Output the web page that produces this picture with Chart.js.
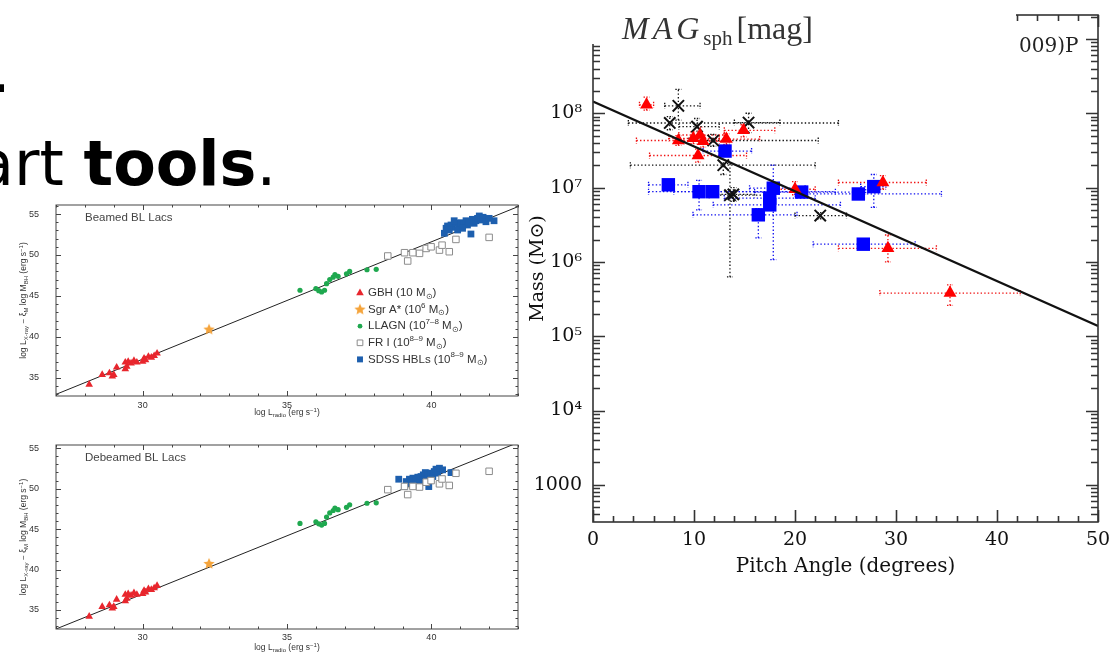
<!DOCTYPE html>
<html>
<head>
<meta charset="utf-8">
<script src="https://cdn.jsdelivr.net/npm/chart.js@4.4.0/dist/chart.umd.min.js"></script>
<style>
  html, body { margin: 0; padding: 0; background: #fff; }
  body { position: relative; width: 1118px; height: 652px; overflow: hidden; }
  canvas { position: absolute; }
  .slide { position: absolute; font-family: "DejaVu Sans"; font-size: 62px; line-height: 62px; color: #000; white-space: nowrap; }
  #magCover { position: absolute; left: 560px; top: 0; width: 456px; height: 44px; background: #fff; }
  #magLabel { position: absolute; left: 622px; top: 12px; font-family: "Liberation Serif"; font-size: 32px; line-height: 32px; color: #333; white-space: nowrap; }
  #magLabel i { letter-spacing: 4px; }
  #magLabel sub { font-size: 21px; vertical-align: -6px; margin-right: 4px; }
  #cornerText { position: absolute; left: 1019px; top: 35px; font-family: "DejaVu Serif"; font-size: 20px; line-height: 20px; color: #222; }
</style>
</head>
<body>
<div class="slide" style="left:-9px;top:40px">.</div>
<div class="slide" style="left:-24px;top:133px">art <b>tools</b>.</div>

<canvas id="beamed" width="530" height="225" style="left:0;top:195px"></canvas>
<canvas id="debeamed" width="530" height="222" style="left:0;top:430px"></canvas>
<canvas id="pitch" width="618" height="585" style="left:500px;top:0"></canvas>

<div id="magCover"></div>
<div id="magLabel"><i>MAG</i><sub>sph</sub>[mag]</div>
<div id="cornerText">009)P</div>

<script>
// ---------- fundamental plane panels ----------
const radioTicks = [30, 35, 40];
const planeTicks = [35, 40, 45, 50, 55];

// stellar-mass black holes
const gbhRadio = [28.15, 28.6, 28.85, 28.95, 29.0, 29.1, 29.4, 29.4, 29.45, 29.5, 29.6, 29.7, 29.8, 30.0, 30.05, 30.1, 30.2, 30.3, 30.4, 30.5];
const gbhPlane = [34.2, 35.4, 35.6, 35.2, 35.4, 36.3, 36.1, 36.9, 36.4, 37.0, 36.8, 37.1, 36.9, 37.0, 37.4, 37.2, 37.6, 37.5, 37.7, 38.0];

// Sgr A*
const sgrRadio = [32.3];
const sgrPlaneBeamed = [40.9];
const sgrPlaneDebeamed = [40.7];

// LLAGN
const llagnRadio = [35.45, 36.0, 36.1, 36.2, 36.3, 36.37, 36.48, 36.6, 36.66, 36.77, 37.06, 37.17, 37.77, 38.09];
const llagnPlane = [45.7, 45.9, 45.65, 45.5, 45.7, 46.5, 47.0, 47.3, 47.6, 47.4, 47.7, 48.0, 48.2, 48.25];

// FR I radio galaxies
const fr1Radio = [38.49, 39.18, 39.07, 39.36, 39.59, 39.82, 39.99, 40.28, 40.37, 40.62, 40.85, 42.0];
const fr1Plane = [49.88, 49.27, 50.28, 50.28, 50.2, 50.8, 51.0, 50.6, 51.2, 50.4, 51.9, 52.15];

// SDSS HBLs, before and after the beaming correction
const hblRadioBeamed = [40.45, 40.51, 40.56, 40.68, 40.73, 40.85, 40.97, 41.02, 41.14, 41.2, 41.25, 41.31, 41.37, 41.42, 41.48, 41.54, 41.6, 41.66, 41.71, 41.79, 41.89, 42.0, 42.17, 40.62, 40.91, 41.08, 40.79];
const hblPlaneBeamed = [52.65, 53.26, 53.54, 53.66, 53.38, 53.87, 53.54, 53.94, 53.78, 54.18, 53.66, 54.06, 52.56, 54.35, 53.87, 54.18, 54.47, 54.76, 54.27, 54.6, 54.06, 54.47, 54.18, 53.05, 53.05, 53.26, 54.18];
const hblRadioDebeamed = [38.87, 39.07, 39.13, 39.24, 39.3, 39.36, 39.47, 39.53, 39.59, 39.64, 39.72, 39.79, 39.82, 39.87, 39.91, 39.99, 40.05, 40.1, 40.16, 40.22, 40.28, 40.39, 40.68, 39.41, 39.7];
const hblPlaneDebeamed = [51.17, 50.26, 50.88, 51.17, 50.68, 51.3, 51.09, 51.42, 50.88, 51.5, 51.71, 51.99, 51.17, 51.71, 50.26, 51.92, 51.5, 52.12, 52.41, 51.92, 52.53, 52.33, 51.99, 50.47, 51.09];

// best-fit plane
const fitRadio = [27, 43];
const fitPlaneBeamed = [33.0, 55.9];
const fitPlaneDebeamed = [32.65, 55.7];

const legendLabels = [
  [['GBH (10 M', ''], ['\u2299', 'sub'], [')', '']],
  [['Sgr A* (10', ''], ['6', 'sup'], [' M', ''], ['\u2299', 'sub'], [')', '']],
  [['LLAGN (10', ''], ['7\u20138', 'sup'], [' M', ''], ['\u2299', 'sub'], [')', '']],
  [['FR I (10', ''], ['8\u20139', 'sup'], [' M', ''], ['\u2299', 'sub'], [')', '']],
  [['SDSS HBLs (10', ''], ['8\u20139', 'sup'], [' M', ''], ['\u2299', 'sub'], [')', '']]
];

// ---------- pitch angle vs. black hole mass ----------
const pitchTicks = [0, 10, 20, 30, 40, 50];
const massTicks = [1e3, 1e4, 1e5, 1e6, 1e7, 1e8];
const massTickLabels = ['1000', '10\u2074', '10\u2075', '10\u2076', '10\u2077', '10\u2078'];

const redPitch = [5.3, 8.45, 9.93, 10.6, 10.9, 10.4, 13.2, 14.9, 20.0, 28.7, 29.2, 35.35];
const redMass = [1.3e8, 4.3e7, 4.6e7, 5.1e7, 4.2e7, 2.7e7, 4.5e7, 5.9e7, 9.5e6, 1.17e7, 1.52e6, 3.8e5];
const redPitchRange = [[4.6, 6.0], [4.3, 12.5], [7.5, 12.5], [8.5, 13.0], [9.0, 13.5], [5.6, 15.2], [11.0, 16.5], [13.0, 18.0], [17.5, 22.0], [24.3, 33.0], [24.3, 34.0], [28.4, 42.3]];
const redMassRange = [[1.1e8, 1.65e8], [3.7e7, 5.0e7], [3.9e7, 5.6e7], [4.2e7, 6.5e7], [3.5e7, 5.0e7], [2.2e7, 3.3e7], [3.8e7, 5.3e7], [4.8e7, 7.0e7], [8e6, 1.2e7], [9.5e6, 1.45e7], [1.0e6, 2.3e6], [2.6e5, 4.9e5]];

const blackPitch = [8.45, 7.6, 10.3, 15.4, 11.9, 12.9, 13.56, 13.9, 22.5];
const blackMass = [1.26e8, 7.4e7, 6.6e7, 7.5e7, 4.3e7, 2.0e7, 7.9e6, 8.1e6, 4.2e6];
const blackPitchRange = [[7.1, 10.6], [3.5, 24.3], [8.5, 12.5], [14.0, 18.5], [9.5, 22.3], [3.7, 22.0], [11.5, 17.0], [12.0, 16.0], [20.0, 25.1]];
const blackMassRange = [[8.1e7, 2.1e8], [6.0e7, 9.0e7], [4.5e7, 8.5e7], [5.5e7, 1.0e8], [3.6e7, 5.2e7], [1.5e7, 2.7e7], [6.3e5, 2.1e7], [6.5e6, 1.0e7], [3.8e6, 4.6e6]];

const bluePitch = [13.07, 7.46, 10.5, 11.85, 17.85, 17.5, 17.5, 16.37, 20.66, 26.27, 27.8, 26.76];
const blueMass = [3.1e7, 1.09e7, 8.8e6, 8.8e6, 9.8e6, 7.2e6, 5.85e6, 4.3e6, 8.7e6, 8.2e6, 1.03e7, 1.73e6];
const bluePitchRange = [[10.9, 15.7], [5.5, 9.4], [5.5, 24.0], [8.0, 20.0], [15.5, 21.0], [13.0, 22.0], [11.9, 24.5], [9.9, 20.2], [16.0, 27.0], [20.0, 34.5], [26.5, 29.0], [21.8, 31.9]];
const blueMassRange = [[2.8e7, 3.5e7], [9.5e6, 1.25e7], [5.0e6, 1.25e7], [7.5e6, 1.0e7], [1.07e6, 2.0e7], [6.0e6, 8.5e6], [5.0e6, 7.0e6], [2.1e6, 5.2e6], [7.5e6, 1.0e7], [7.3e6, 9.2e6], [5.4e6, 1.5e7], [1.6e6, 1.9e6]];

const fitPitch = [0, 50];
const fitMass = [1.44e8, 1.37e5];

// ---------- helpers ----------
const pts = (xs, ys) => xs.map((x, i) => ({x, y: ys[i]}));

function starImage(r, color) {
  const c = document.createElement('canvas');
  c.width = c.height = 2 * r + 2;
  const g = c.getContext('2d');
  g.fillStyle = color;
  g.beginPath();
  for (let k = 0; k < 10; k++) {
    const rad = k % 2 ? r * 0.45 : r;
    const a = -Math.PI / 2 + k * Math.PI / 5;
    g.lineTo(r + 1 + rad * Math.cos(a), r + 1 + rad * Math.sin(a));
  }
  g.closePath();
  g.fill();
  return c;
}

// text with sub/superscript pieces
function drawRich(ctx, parts, x, y, size, family, align) {
  const fontFor = m => (m ? Math.round(size * 0.68) : size) + 'px ' + family;
  let total = 0;
  for (const [t, m] of parts) { ctx.font = fontFor(m); total += ctx.measureText(t).width; }
  let cx = align === 'center' ? x - total / 2 : x;
  ctx.textBaseline = 'middle';
  ctx.textAlign = 'left';
  for (const [t, m] of parts) {
    ctx.font = fontFor(m);
    const dy = m === 'sub' ? size * 0.32 : m === 'sup' ? -size * 0.36 : 0;
    ctx.fillText(t, cx, y + dy);
    cx += ctx.measureText(t).width;
  }
}

function ticksBetween(lo, hi, step, isMajor, majorLen, minorLen) {
  const out = [];
  for (let v = lo; v <= hi + 1e-9; v += step) out.push([v, isMajor(v) ? majorLen : minorLen]);
  return out;
}

function logTicks(lo, hi, majorLen, minorLen) {
  const out = [];
  for (let e = 2; e <= 9; e++) {
    for (let k = 1; k <= 9; k++) {
      const v = k * Math.pow(10, e);
      if (v >= lo && v <= hi) out.push([v, k === 1 ? majorLen : minorLen]);
    }
  }
  return out;
}

// invisible tick marks just to push the labels away from the frame
const spacer = len => ({display: true, drawOnChartArea: false, drawTicks: true, tickLength: len, color: 'rgba(0,0,0,0)'});

// box round the plot with inward ticks on all four sides
const frameTicks = {
  id: 'frameTicks',
  afterDraw(chart, args, o) {
    const {ctx, chartArea: a, scales: {x, y}} = chart;
    const inX = v => v >= x.min && v <= x.max;
    const inY = v => v >= y.min && v <= y.max;
    ctx.save();
    ctx.strokeStyle = o.color;
    ctx.lineWidth = o.width;
    ctx.strokeRect(a.left, a.top, a.right - a.left, a.bottom - a.top);
    ctx.beginPath();
    for (const [v, len] of o.x.filter(t => inX(t[0]))) {
      const px = Math.round(x.getPixelForValue(v)) + 0.5;
      ctx.moveTo(px, a.bottom); ctx.lineTo(px, a.bottom - len);
      ctx.moveTo(px, a.top); ctx.lineTo(px, a.top + len);
    }
    for (const [v, len] of o.y.filter(t => inY(t[0]))) {
      const py = Math.round(y.getPixelForValue(v)) + 0.5;
      ctx.moveTo(a.left, py); ctx.lineTo(a.left + len, py);
      ctx.moveTo(a.right, py); ctx.lineTo(a.right - len, py);
    }
    ctx.stroke();
    ctx.restore();
  }
};

// dotted error bars taken from each dataset's ranges
const errorBars = {
  id: 'errorBars',
  beforeDatasetsDraw(chart) {
    const {ctx, scales: {x, y}} = chart;
    ctx.save();
    ctx.lineWidth = 1.3;
    chart.data.datasets.forEach(ds => {
      if (!ds.xRange) return;
      ctx.strokeStyle = ds.barColor;
      ds.data.forEach((p, i) => {
        const px = x.getPixelForValue(p.x), py = y.getPixelForValue(p.y);
        const x0 = x.getPixelForValue(ds.xRange[i][0]), x1 = x.getPixelForValue(ds.xRange[i][1]);
        const y0 = y.getPixelForValue(ds.yRange[i][0]), y1 = y.getPixelForValue(ds.yRange[i][1]);
        ctx.setLineDash([1.4, 2.2]);
        ctx.beginPath();
        ctx.moveTo(x0, py); ctx.lineTo(x1, py);
        ctx.moveTo(px, y0); ctx.lineTo(px, y1);
        ctx.stroke();
        ctx.setLineDash([1.4, 1.4]);
        ctx.beginPath();
        ctx.moveTo(x0, py - 3); ctx.lineTo(x0, py + 3);
        ctx.moveTo(x1, py - 3); ctx.lineTo(x1, py + 3);
        ctx.moveTo(px - 3, y0); ctx.lineTo(px + 3, y0);
        ctx.moveTo(px - 3, y1); ctx.lineTo(px + 3, y1);
        ctx.stroke();
      });
    });
    ctx.restore();
  }
};

// axis titles, panel label and inset legend for the plane panels
const panelText = {
  id: 'panelText',
  afterDraw(chart, args, o) {
    const {ctx, chartArea: a} = chart;
    const fam = '"Liberation Sans", Arial, sans-serif';
    ctx.save();
    ctx.fillStyle = '#333';
    drawRich(ctx, [['log L', ''], ['radio', 'sub'], [' (erg s', ''], ['\u22121', 'sup'], [')', '']],
      (a.left + a.right) / 2, o.xTitleY, 8.5, fam, 'center');
    ctx.translate(o.yTitleX, (a.top + a.bottom) / 2);
    ctx.rotate(-Math.PI / 2);
    drawRich(ctx, [['log L', ''], ['X-ray', 'sub'], [' \u2212 \u03BE', ''], ['M', 'sub'], [' log M', ''], ['BH', 'sub'], [' (erg s', ''], ['\u22121', 'sup'], [')', '']],
      0, 0, 8.5, fam, 'center');
    ctx.setTransform(1, 0, 0, 1, 0, 0);
    ctx.fillStyle = '#444';
    ctx.font = '11.5px ' + fam;
    ctx.textBaseline = 'middle';
    ctx.fillText(o.label, a.left + 29, a.top + 13);
    if (o.legend) {
      const drawPoint = Chart.helpers && Chart.helpers.drawPoint;
      chart.data.datasets.slice(0, 5).forEach((ds, i) => {
        const lx = a.left + 304, ly = a.top + 88 + i * 16.6;
        ctx.fillStyle = ds.backgroundColor;
        ctx.strokeStyle = ds.borderColor;
        if (drawPoint) {
          drawPoint(ctx, {pointStyle: ds.pointStyle, radius: ds.legendRadius, borderWidth: ds.borderWidth || 0, rotation: 0}, lx, ly);
        }
        ctx.fillStyle = '#333';
        drawRich(ctx, legendLabels[i], lx + 8, ly, 11.5, fam, 'left');
      });
    }
    ctx.restore();
  }
};

function planeChart(id, opts) {
  const tickFont = {family: '"Liberation Sans", Arial, sans-serif', size: 9};
  return new Chart(document.getElementById(id), {
    type: 'scatter',
    data: {
      datasets: [
        {data: pts(gbhRadio, gbhPlane), pointStyle: 'triangle', pointRadius: 4.4, legendRadius: 4.4, backgroundColor: '#e8262d', borderColor: '#e8262d', borderWidth: 0},
        {data: pts(sgrRadio, opts.sgr), pointStyle: starImage(6, '#f5a43b'), pointRadius: 6, legendRadius: 6, backgroundColor: '#f5a43b', borderColor: '#f5a43b', borderWidth: 0},
        {data: pts(llagnRadio, llagnPlane), pointStyle: 'circle', pointRadius: 2.6, legendRadius: 2.4, backgroundColor: '#1fa84f', borderColor: '#1fa84f', borderWidth: 0},
        {data: pts(fr1Radio, fr1Plane), pointStyle: 'rect', pointRadius: 4.6, legendRadius: 4.0, backgroundColor: '#fff', borderColor: '#8c8c8c', borderWidth: 1},
        {data: pts(opts.hblRadio, opts.hblPlane), pointStyle: 'rect', pointRadius: 4.8, legendRadius: 4.2, backgroundColor: '#1d5fae', borderColor: '#1d5fae', borderWidth: 0},
        {data: pts(fitRadio, opts.fit), showLine: true, borderColor: '#222', borderWidth: 1, pointRadius: 0}
      ]
    },
    options: {
      responsive: false,
      animation: false,
      events: [],
      layout: {padding: {top: opts.padTop, right: 12, left: 0, bottom: 0}},
      plugins: {
        legend: {display: false},
        tooltip: {enabled: false},
        frameTicks: {
          color: '#444', width: 1,
          x: ticksBetween(27, 43, 1, v => v % 5 === 0, 5, 2.5),
          y: ticksBetween(33, 56, 1, v => v % 5 === 0, 5, 2.5)
        },
        panelText: {label: opts.label, legend: opts.legend, xTitleY: opts.xTitleY, yTitleX: 24}
      },
      scales: {
        x: {
          min: 27, max: 43,
          afterFit: s => { s.height = opts.xHeight; },
          afterBuildTicks: s => { s.ticks = radioTicks.map(v => ({value: v})); },
          grid: {display: false, drawTicks: false},
          border: {display: false},
          ticks: {font: tickFont, color: '#333', padding: opts.xPad, autoSkip: false, maxRotation: 0}
        },
        y: {
          min: opts.yMin, max: opts.yMax,
          afterFit: s => { s.width = 56; },
          afterBuildTicks: s => { s.ticks = planeTicks.map(v => ({value: v})); },
          grid: spacer(14),
          border: {display: false},
          ticks: {font: tickFont, color: '#333', padding: 3, autoSkip: false}
        }
      }
    },
    plugins: [frameTicks, panelText]
  });
}

planeChart('beamed', {
  label: 'Beamed BL Lacs', legend: true, sgr: sgrPlaneBeamed,
  hblRadio: hblRadioBeamed, hblPlane: hblPlaneBeamed, fit: fitPlaneBeamed,
  yMin: 32.8, yMax: 56.1, padTop: 10, xHeight: 24, xPad: 4, xTitleY: 218
});

planeChart('debeamed', {
  label: 'Debeamed BL Lacs', legend: false, sgr: sgrPlaneDebeamed,
  hblRadio: hblRadioDebeamed, hblPlane: hblPlaneDebeamed, fit: fitPlaneDebeamed,
  yMin: 32.65, yMax: 55.4, padTop: 15, xHeight: 23, xPad: 3, xTitleY: 218
});

// ---------- pitch angle chart ----------
const serif = '"DejaVu Serif", serif';
new Chart(document.getElementById('pitch'), {
  type: 'scatter',
  data: {
    datasets: [
      {data: pts(fitPitch, fitMass), showLine: true, borderColor: '#111', borderWidth: 2.2, pointRadius: 0},
      {data: pts(redPitch, redMass), xRange: redPitchRange, yRange: redMassRange, barColor: '#f01010',
       pointStyle: 'triangle', pointRadius: 7.5, backgroundColor: '#ff0000', borderColor: '#ff0000', borderWidth: 0},
      {data: pts(blackPitch, blackMass), xRange: blackPitchRange, yRange: blackMassRange, barColor: '#111',
       pointStyle: 'crossRot', pointRadius: 8, backgroundColor: '#111', borderColor: '#111', borderWidth: 2},
      {data: pts(bluePitch, blueMass), xRange: bluePitchRange, yRange: blueMassRange, barColor: '#1010f0',
       pointStyle: 'rect', pointRadius: 9.5, backgroundColor: '#0000ff', borderColor: '#0000ff', borderWidth: 0}
    ]
  },
  options: {
    responsive: false,
    animation: false,
    events: [],
    layout: {padding: {top: 15, right: 20, left: 0, bottom: 0}},
    plugins: {
      legend: {display: false},
      tooltip: {enabled: false},
      frameTicks: {
        color: '#333', width: 1.6,
        x: ticksBetween(0, 50, 2, v => v % 10 === 0, 12, 6),
        y: logTicks(316, 2.1e9, 12, 7)
      }
    },
    scales: {
      x: {
        min: 0, max: 50,
        afterFit: s => { s.height = 63; },
        afterBuildTicks: s => { s.ticks = pitchTicks.map(v => ({value: v})); },
        grid: {display: false, drawTicks: false},
        border: {display: false},
        ticks: {font: {family: serif, size: 19}, color: '#111', padding: 7, autoSkip: false, maxRotation: 0},
        title: {display: true, text: 'Pitch Angle (degrees)', font: {family: serif, size: 20}, color: '#111', padding: {top: 0, bottom: 6}}
      },
      y: {
        type: 'logarithmic',
        min: 316, max: 2.1e9,
        afterFit: s => { s.width = 93; },
        afterBuildTicks: s => { s.ticks = massTicks.map(v => ({value: v})); },
        grid: spacer(8),
        border: {display: false},
        ticks: {font: {family: serif, size: 19}, color: '#111', padding: 3, autoSkip: false,
                callback: (v, i) => massTickLabels[i]},
        title: {display: true, text: 'Mass (M\u2299)', font: {family: serif, size: 19}, color: '#111', padding: {top: 27, bottom: 0}}
      }
    }
  },
  plugins: [frameTicks, errorBars]
});
</script>
</body>
</html>
